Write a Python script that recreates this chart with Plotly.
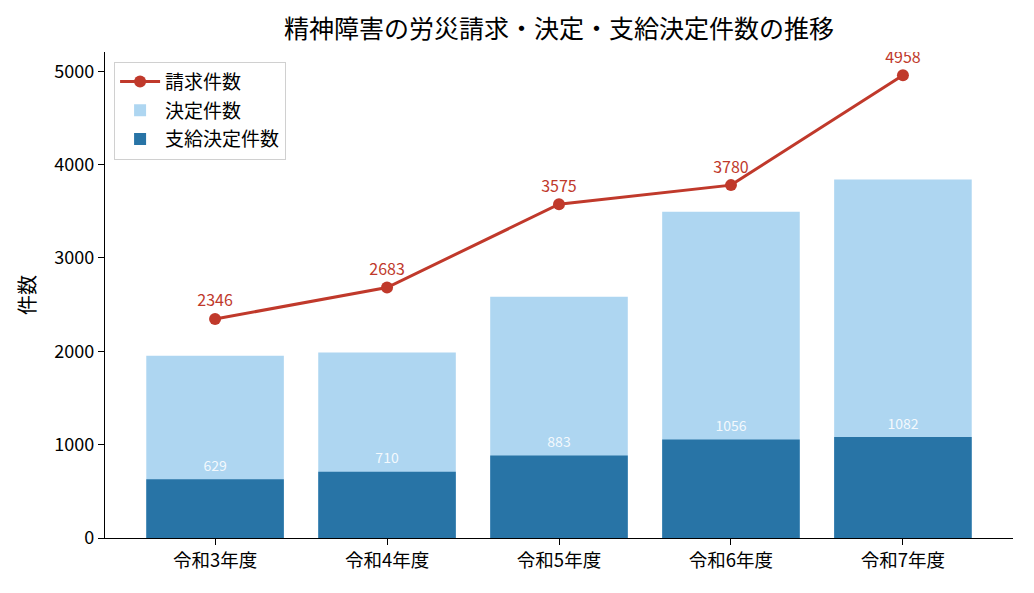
import plotly.graph_objects as go

categories = ["令和3年度", "令和4年度", "令和5年度", "令和6年度", "令和7年度"]
claims = [2346, 2683, 3575, 3780, 4958]
decisions = [1953, 1986, 2583, 3494, 3840]
approvals = [629, 710, 883, 1056, 1082]

FONT = "Noto Sans CJK JP"
RED = "#C0392B"
LIGHT = "#AED6F1"
DARK = "#2874A6"

fig = go.Figure()
fig.add_trace(go.Bar(x=categories, y=decisions, name="決定件数", legendgroup="b",
                     marker=dict(color=LIGHT, line=dict(width=0)), legendrank=2))
fig.add_trace(go.Bar(x=categories, y=approvals, name="支給決定件数", legendgroup="c",
                     marker=dict(color=DARK, line=dict(width=0)), legendrank=3))
fig.add_trace(go.Scatter(x=categories, y=approvals, mode="markers+text",
                         marker=dict(size=6, opacity=0),
                         text=[str(v) for v in approvals], textposition="top center",
                         textfont=dict(color="rgba(255,255,255,0.88)", size=14, family=FONT),
                         showlegend=False, hoverinfo="skip"))
fig.add_trace(go.Scatter(x=categories, y=claims, name="請求件数", mode="lines+markers+text",
                         legendgroup="a",
                         line=dict(color=RED, width=3), marker=dict(color=RED, size=12),
                         text=[str(v) for v in claims], textposition="top center",
                         textfont=dict(color=RED, size=16, family=FONT), legendrank=1))

fig.update_layout(
    width=1026, height=585,
    margin=dict(l=97, r=21, t=44, b=55),
    paper_bgcolor="white", plot_bgcolor="white",
    barmode="overlay", bargap=0.2,
    font=dict(family=FONT, size=18, color="black"),
    title=dict(text="精神障害の労災請求・決定・支給決定件数の推移", x=0.537, xanchor="center",
               y=0.964, yanchor="middle", font=dict(size=25, family=FONT, color="black")),
    legend=dict(x=0.01, y=0.98, xanchor="left", yanchor="top",
                bordercolor="#d0d0d0", borderwidth=1, bgcolor="rgba(255,255,255,0.8)",
                font=dict(size=19, family=FONT), tracegroupgap=1, traceorder="grouped",
                itemwidth=40),
    xaxis=dict(range=[-0.64, 4.64], showline=True, linecolor="black", linewidth=1.3,
               ticks="outside", ticklen=6, tickcolor="black", showgrid=False,
               tickfont=dict(size=18.5)),
    yaxis=dict(range=[0, 5206], showline=True, linecolor="black", linewidth=1.3,
               ticks="outside", ticklen=6, tickcolor="black", showgrid=False, zeroline=False,
               tickvals=[0, 1000, 2000, 3000, 4000, 5000], tickfont=dict(size=18),
               title=dict(text="件数", font=dict(size=20), standoff=13)),
)

fig.write_html("out.html")
